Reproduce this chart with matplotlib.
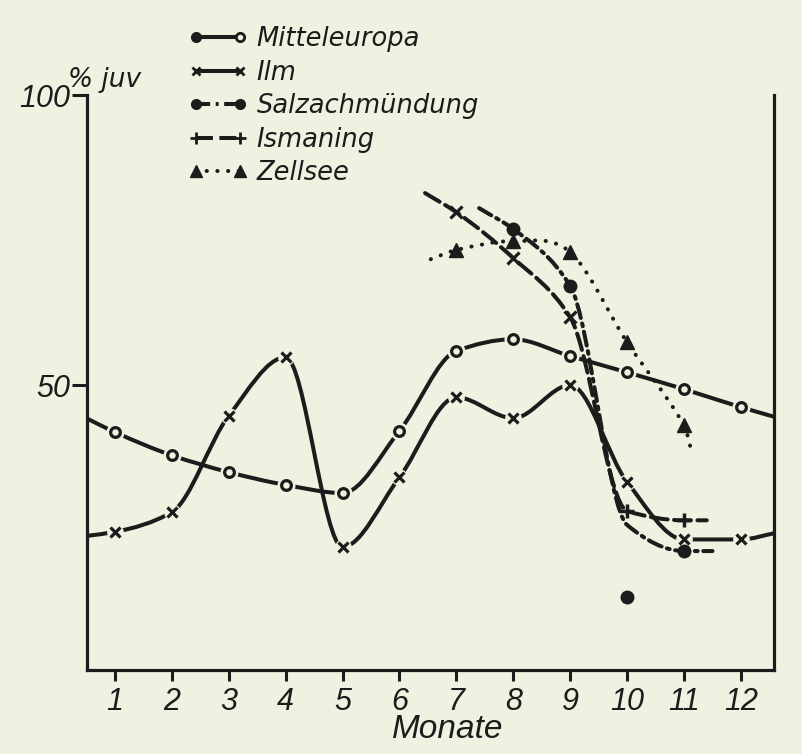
import numpy as np
import matplotlib.pyplot as plt
from matplotlib.path import Path
from matplotlib.patches import PathPatch
from matplotlib.lines import Line2D
from matplotlib.legend_handler import HandlerTuple, HandlerLine2D

BG = '#eef2e0'
INK = '#1c1c1c'

# values (x in months, y in % juv), line ends included
mitte_x = [0.5, 1, 2, 3, 4, 5, 6, 7, 8, 9, 10, 11, 12, 12.6]
mitte_y = [44.3, 41.9, 37.9, 35.0, 32.8, 31.4, 42.1, 55.9, 57.9, 55.0, 52.2, 49.3, 46.2, 44.5]

ilm_x = [0.5, 1, 2, 3, 4, 5, 6, 7, 8, 9, 10, 11, 12, 12.6]
ilm_y = [24.0, 24.7, 28.1, 44.7, 54.8, 22.1, 34.1, 47.9, 44.3, 50.0, 33.3, 23.4, 23.4, 24.5]

salz_x = [7.4, 8, 9, 10, 11, 11.5]
salz_y = [80.5, 76.9, 67.1, 25.9, 21.4, 21.4]
salz_marked = [8, 9, 11]
salz_oct = 13.4   # lone point in October

isma_x = [6.45, 7, 8, 9, 10, 11, 11.4]
isma_y = [83.1, 79.8, 71.9, 61.7, 28.3, 26.7, 26.7]

zell_x = [6.55, 7, 8, 9, 10, 11, 11.15]
zell_y = [71.7, 73.3, 74.8, 72.9, 57.4, 43.1, 37.9]

months = list(range(1, 13))


def smooth_path(xs, ys, monotone=True):
    # cubic through the points, as bezier segments
    x = np.asarray(xs, float)
    y = np.asarray(ys, float)
    h = np.diff(x)
    d = np.diff(y) / h
    m = np.zeros(len(x))
    m[0], m[-1] = d[0], d[-1]
    for k in range(1, len(x) - 1):
        if not monotone:
            m[k] = (y[k + 1] - y[k - 1]) / (x[k + 1] - x[k - 1])
        elif d[k - 1] * d[k] > 0:
            w1 = 2 * h[k] + h[k - 1]
            w2 = h[k] + 2 * h[k - 1]
            m[k] = (w1 + w2) / (w1 / d[k - 1] + w2 / d[k])
    verts = [(x[0], y[0])]
    codes = [Path.MOVETO]
    for k in range(len(x) - 1):
        verts += [(x[k] + h[k] / 3, y[k] + m[k] * h[k] / 3),
                  (x[k + 1] - h[k] / 3, y[k + 1] - m[k + 1] * h[k] / 3),
                  (x[k + 1], y[k + 1])]
        codes += [Path.CURVE4] * 3
    return Path(verts, codes)


class OneEnd(HandlerLine2D):
    # legend key with the marker on one end only
    def __init__(self, idx, **kw):
        super().__init__(**kw)
        self.idx = idx

    def create_artists(self, *args, **kw):
        arts = super().create_artists(*args, **kw)
        for a in arts:
            if isinstance(a, Line2D):
                a.set_markevery([self.idx])
        return arts


fig = plt.figure(figsize=(8.03, 7.54), dpi=100, facecolor=BG)
ax = fig.add_axes([0.1083, 0.1114, 0.8555, 0.7626], facecolor=BG)

lw = 2.9
styles = {
    'Mitteleuropa': '-',
    'Ilm': '-',
    'Salzachmündung': (0, (3.5, 1.4, 0.7, 1.4)),
    'Ismaning': (0, (4.2, 1.6)),
    'Zellsee': (0, (0.05, 2.6)),
}
series = [('Mitteleuropa', mitte_x, mitte_y), ('Ilm', ilm_x, ilm_y),
          ('Salzachmündung', salz_x, salz_y), ('Ismaning', isma_x, isma_y),
          ('Zellsee', zell_x, zell_y)]

for name, xs, ys in series:
    patch = PathPatch(smooth_path(xs, ys, monotone=(name != 'Zellsee')),
                      fill=False, edgecolor=INK, lw=lw,
                      linestyle=styles[name], capstyle='round', zorder=2)
    ax.add_patch(patch)


def pick(xs, ys, keep):
    pts = [(a, b) for a, b in zip(xs, ys) if a in keep]
    return [p[0] for p in pts], [p[1] for p in pts]


mx, my = pick(mitte_x, mitte_y, months)
ax.plot(mx, my, 'o', ms=12, color=BG, zorder=3)
ax.plot(mx, my, 'o', ms=7, mfc=BG, mec=INK, mew=2.3, zorder=4)

ix, iy = pick(ilm_x, ilm_y, months)
ax.plot(ix, iy, 'o', ms=11, color=BG, zorder=3)
ax.plot(ix, iy, 'x', ms=7, mec=INK, mew=2.3, zorder=4)

sx, sy = pick(salz_x, salz_y, salz_marked)
ax.plot(sx + [10], sy + [salz_oct], 'o', ms=9, color=INK, zorder=4)

px, py = pick(isma_x, isma_y, [7, 8, 9])
ax.plot(px, py, 'x', ms=8, mec=INK, mew=2.3, zorder=4)
px, py = pick(isma_x, isma_y, [10, 11])
ax.plot(px, py, '+', ms=10, mec=INK, mew=2.5, zorder=4)

zx, zy = pick(zell_x, zell_y, months)
ax.plot(zx, zy, '^', ms=10, color=INK, zorder=4)

ax.set_xlim(0.51, 12.58)
ax.set_ylim(0.9, 100)

for s in ['left', 'bottom', 'right']:
    ax.spines[s].set_linewidth(2.3)
    ax.spines[s].set_color(INK)
ax.spines['top'].set_visible(False)

tickfont = {'family': ['Liberation Sans', 'DejaVu Sans'], 'style': 'italic'}
ax.set_xticks(months)
ax.set_xticklabels([str(m) for m in months], fontdict=tickfont, fontsize=22)
ax.set_yticks([50, 100])
ax.set_yticklabels(['50', '100'], fontdict=tickfont, fontsize=22)
ax.tick_params(axis='x', length=8, width=2.2, color=INK, pad=4, labelcolor=INK)
ax.tick_params(axis='y', length=11, width=2.2, color=INK, pad=1, labelcolor=INK)

fig.text(448 / 803, 1 - 730 / 754, 'Monate', fontsize=24, style='italic', color=INK,
         family=['Liberation Sans', 'DejaVu Sans'], ha='center', va='center')
fig.text(0.085, 0.885, '% juv', fontsize=19, style='italic', color=INK)

# legend
m_filled = Line2D([], [], color=INK, lw=lw, marker='o', ms=6, mfc=INK, mec=INK, mew=2)
m_open = Line2D([], [], color=INK, lw=lw, marker='o', ms=6, mfc=BG, mec=INK, mew=2)
handles = [
    (m_filled, m_open),
    Line2D([], [], color=INK, lw=lw, ls='-', marker='x', ms=6, mec=INK, mew=2),
    Line2D([], [], color=INK, lw=lw, ls=styles['Salzachmündung'], marker='o', ms=7),
    Line2D([], [], color=INK, lw=lw, ls=styles['Ismaning'], marker='+', ms=8, mew=2),
    Line2D([], [], color=INK, lw=lw, ls=styles['Zellsee'], marker='^', ms=8,
           dash_capstyle='round'),
]
labels = [s[0] for s in series]
fig.legend(handles, labels, loc='upper left', bbox_to_anchor=(0.219, 0.982),
           frameon=False, numpoints=2, handlelength=2.3, handletextpad=0.35,
           labelspacing=0.29, borderpad=0,
           handler_map={tuple: HandlerTuple(ndivide=1, pad=0),
                        m_filled: OneEnd(0), m_open: OneEnd(1)},
           prop={'size': 18.5, 'style': 'italic'}, labelcolor=INK)

fig.savefig('out.png', dpi=100, facecolor=BG)
